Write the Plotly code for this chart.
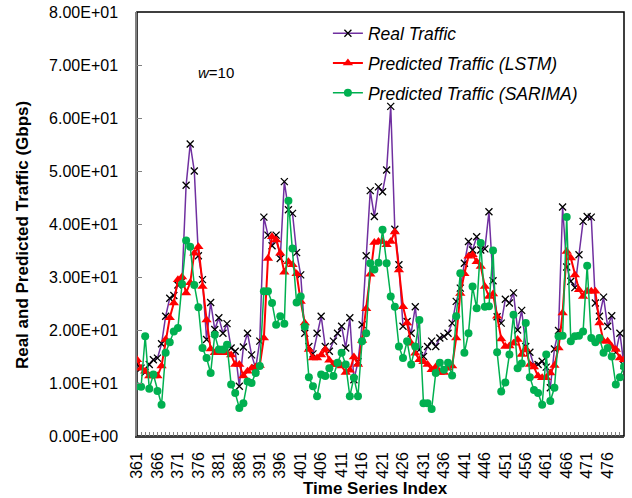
import plotly.graph_objects as go

time_index = list(range(361, 481))

real_traffic = [
    13.5, 12.8, 12.0, 13.5, 14.4, 14.7, 17.4, 22.6, 26.0, 26.5,
    28.5, 29.2, 47.3, 55.1, 50.0, 34.0, 29.5, 18.2, 25.2, 20.1,
    22.3, 19.4, 21.2, 16.6, 16.0, 9.4, 16.8, 19.4, 15.3, 12.8,
    17.9, 41.3, 37.9, 35.9, 37.9, 33.5, 48.0, 42.7, 42.0, 34.6,
    30.4, 19.4, 16.9, 15.5, 19.4, 22.6, 16.9, 16.0, 17.9, 19.4,
    20.7, 16.6, 22.3, 10.6, 14.0, 21.0, 34.0, 46.3, 41.4, 47.0,
    46.1, 50.2, 62.2, 39.0, 32.3, 20.7, 21.6, 19.4, 24.4, 16.3,
    15.0, 16.9, 17.9, 16.9, 18.5, 18.8, 19.4, 21.3, 25.4, 27.9,
    32.6, 36.7, 35.1, 37.6, 35.1, 35.3, 42.3, 29.3, 22.5, 21.3,
    25.8, 25.1, 27.0, 20.0, 23.7, 16.9, 15.8, 13.3, 13.5, 14.1,
    13.0, 9.1, 16.4, 19.9, 43.2, 31.9, 29.2, 28.0, 34.2, 40.5,
    41.4, 41.3, 25.1, 22.6, 26.2, 20.7, 22.7, 15.8, 19.4, 13.3,
]

lstm_pred = [
    14.4, 12.8, 12.2, 11.3, 11.3, 11.3, 13.2, 18.2, 22.3, 25.1,
    29.5, 30.0, 27.0, 28.9, 34.5, 35.7, 28.2, 21.9, 16.4, 15.7,
    15.7, 15.7, 15.7, 15.3, 13.5, 13.5, 11.3, 12.2, 12.8, 13.0,
    13.3, 18.5, 33.5, 37.6, 37.0, 34.5, 30.9, 32.9, 32.3, 30.6,
    25.4, 21.3, 16.3, 14.7, 14.7, 15.3, 16.3, 14.3, 13.5, 13.5,
    13.2, 12.0, 12.4, 14.9, 13.5, 18.0, 24.0, 30.5, 36.5, 36.7,
    36.7, 36.1, 36.7, 38.5, 31.3, 24.4, 21.3, 17.5, 15.6, 14.4,
    14.0, 13.5, 12.5, 13.0, 12.0, 12.0, 12.8, 13.2, 18.5, 26.9,
    30.6, 33.9, 34.2, 32.9, 32.0, 28.2, 26.3, 26.8, 22.6, 18.3,
    16.9, 17.0, 17.5, 18.2, 15.4, 16.4, 13.5, 13.0, 11.3, 11.0,
    11.0, 11.9, 13.3, 16.6, 23.2, 34.8, 33.6, 30.4, 27.6, 26.3,
    27.3, 27.3, 27.3, 21.3, 17.9, 17.9, 16.9, 16.3, 14.7, 14.4,
]

sarima_pred = [
    9.4, 9.3, 18.8, 8.9, 11.6, 8.5, 5.9, 15.7, 17.7, 19.7,
    20.4, 28.7, 36.9, 35.7, 28.5, 24.3, 16.6, 14.7, 11.9, 19.1,
    16.3, 16.3, 17.2, 9.7, 8.1, 5.3, 6.2, 10.3, 10.0, 11.9,
    13.2, 27.3, 27.3, 25.1, 21.0, 22.6, 21.2, 44.4, 35.4, 25.2,
    26.3, 20.6, 11.1, 9.4, 7.5, 11.6, 11.3, 12.8, 11.3, 13.8,
    15.7, 13.5, 7.5, 11.0, 7.5, 17.9, 19.4, 32.6, 31.4, 32.7,
    38.9, 32.6, 26.3, 24.4, 16.9, 14.7, 17.9, 13.5, 16.9, 21.9,
    6.2, 6.2, 5.1, 11.9, 13.8, 12.5, 13.8, 11.4, 22.6, 30.7,
    15.7, 19.4, 28.2, 24.1, 36.4, 24.4, 24.5, 35.0, 15.8, 8.4,
    10.1, 15.4, 22.9, 12.8, 13.7, 21.3, 11.1, 8.7, 8.1, 5.9,
    15.4, 6.6, 9.1, 18.8, 18.9, 41.3, 17.9, 18.8, 18.9, 19.7,
    32.1, 18.5, 17.7, 18.5, 15.7, 16.6, 15.0, 9.7, 11.1, 13.1,
]

y_tick_vals = [0, 10, 20, 30, 40, 50, 60, 70, 80]
y_tick_text = ["0.00E+00", "1.00E+01", "2.00E+01", "3.00E+01", "4.00E+01",
               "5.00E+01", "6.00E+01", "7.00E+01", "8.00E+01"]
x_tick_vals = list(range(361, 480, 5))
x_tick_text = [str(v) for v in x_tick_vals]

FONT = "Liberation Sans, Arial, sans-serif"

fig = go.Figure()
fig.add_trace(go.Scatter(
    x=time_index, y=real_traffic, mode="lines+markers", name="<i>Real Traffic</i>",
    legendgroup="a",
    line=dict(color="#7030A0", width=1.5),
    marker=dict(symbol="x-thin", size=7, color="#000000",
                line=dict(color="#000000", width=1.3)),
))
fig.add_trace(go.Scatter(
    x=time_index, y=lstm_pred, mode="lines+markers", name="<i>Predicted Traffic (LSTM)</i>",
    legendgroup="b",
    line=dict(color="#FF0000", width=2),
    marker=dict(symbol="triangle-up", size=9, color="#FF0000"),
))
fig.add_trace(go.Scatter(
    x=time_index, y=sarima_pred, mode="lines+markers", name="<i>Predicted Traffic (SARIMA)</i>",
    legendgroup="c",
    line=dict(color="#00B050", width=1.5),
    marker=dict(symbol="circle", size=8, color="#00B050"),
))

fig.update_layout(
    width=632, height=498,
    margin=dict(l=137, r=8, t=12, b=62),
    paper_bgcolor="white", plot_bgcolor="white",
    font=dict(family=FONT, size=16, color="black"),
    showlegend=True,
    legend=dict(x=0.392, y=0.992, xanchor="left", yanchor="top",
                bgcolor="rgba(0,0,0,0)", font=dict(size=17.5, family=FONT),
                itemwidth=30, tracegroupgap=4),
    xaxis=dict(range=[361, 480], tickmode="array", tickvals=x_tick_vals,
               ticktext=x_tick_text, tickangle=-90, ticks="inside", ticklen=4,
               tickcolor="#808080", showgrid=False, zeroline=False,
               showline=True, linecolor="#404040", linewidth=1.5,
               minor=dict(dtick=1, tick0=361, ticks="inside", ticklen=4,
                          tickcolor="#808080", showgrid=False),
               tickfont=dict(size=16), ticklabelstandoff=8, automargin=False),
    yaxis=dict(range=[0, 80], tickmode="array", tickvals=y_tick_vals,
               ticktext=y_tick_text, ticks="inside", ticklen=5,
               tickcolor="#808080", showgrid=False, zeroline=False,
               showline=True, linecolor="#808080", linewidth=1.5,
               tickfont=dict(size=16), ticklabelstandoff=14, automargin=False),
    shapes=[dict(type="rect", xref="paper", yref="paper", x0=0, y0=0, x1=1, y1=1,
                 line=dict(color="black", width=1.5), layer="below")],
    annotations=[
        dict(text="<b>Time Series Index</b>", xref="paper", yref="paper",
             x=0.49, y=-0.124, xanchor="center", yanchor="middle",
             showarrow=False, font=dict(size=17)),
        dict(text="<b>Real and Predicted Traffic (Gbps)</b>", xref="paper", yref="paper",
             x=-0.236, y=0.474, xanchor="center", yanchor="middle", textangle=-90,
             showarrow=False, font=dict(size=17)),
        dict(text="<i>w</i>=10", xref="paper", yref="paper",
             x=0.162, y=0.858, xanchor="center", yanchor="middle",
             showarrow=False, font=dict(size=15)),
    ],
)

fig.write_html("out.html")
